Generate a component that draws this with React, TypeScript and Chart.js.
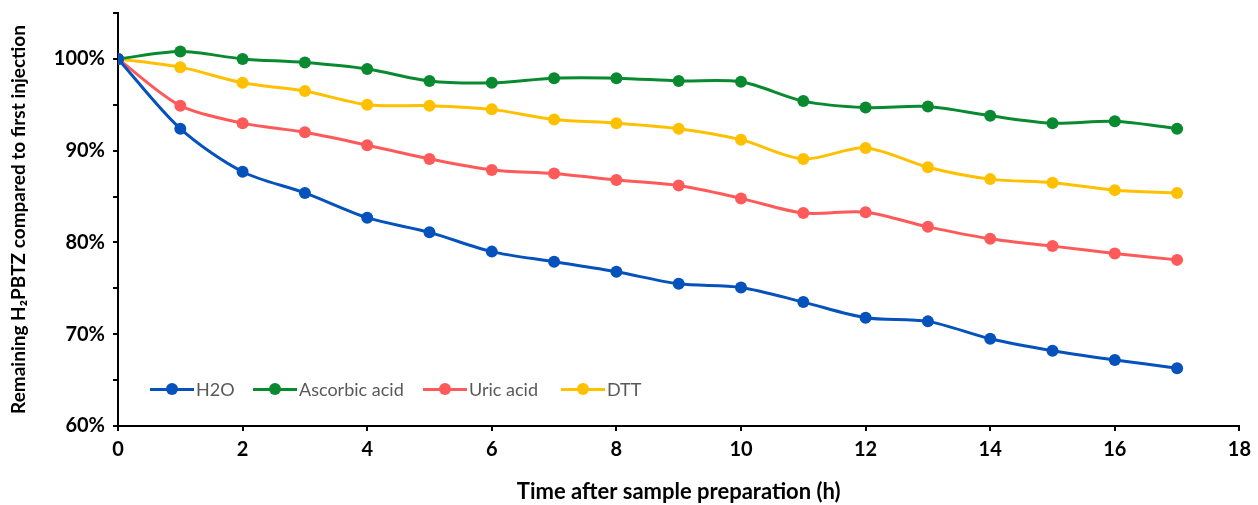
import React, { useEffect, useRef } from "react";
import { Chart, registerables } from "chart.js";

Chart.register(...registerables);

const hours = [0, 1, 2, 3, 4, 5, 6, 7, 8, 9, 10, 11, 12, 13, 14, 15, 16, 17];
const h2o = [100, 92.4, 87.7, 85.4, 82.7, 81.1, 79.0, 77.9, 76.8, 75.5, 75.1, 73.5, 71.8, 71.4, 69.5, 68.2, 67.2, 66.3];
const ascorbic = [100, 100.8, 100.0, 99.6, 98.9, 97.6, 97.4, 97.9, 97.9, 97.6, 97.5, 95.4, 94.7, 94.8, 93.8, 93.0, 93.2, 92.4];
const uric = [100, 94.9, 93.0, 92.0, 90.6, 89.1, 87.9, 87.5, 86.8, 86.2, 84.8, 83.2, 83.3, 81.7, 80.4, 79.6, 78.8, 78.1];
const dtt = [100, 99.1, 97.4, 96.5, 95.0, 94.9, 94.5, 93.4, 93.0, 92.4, 91.2, 89.1, 90.3, 88.2, 86.9, 86.5, 85.7, 85.4];

const seriesNames = ["H2O", "Ascorbic acid", "Uric acid", "DTT"];
const seriesColors = ["#0652BC", "#0A8A30", "#FF5A5A", "#FFC000"];
const seriesValues = [h2o, ascorbic, uric, dtt];

const xTitle = "Time after sample preparation (h)";
const yTitle = "Remaining H\u2082PBTZ compared to first injection";

const FONT = "Lato, 'Open Sans', 'DejaVu Sans', sans-serif";

export default function App() {
  const ref = useRef<HTMLCanvasElement | null>(null);

  useEffect(() => {
    if (!ref.current) return;
    const datasets = seriesNames.map((name, i) => ({
      label: name,
      data: hours.map((h, j) => ({ x: h, y: seriesValues[i][j] })),
      borderColor: seriesColors[i],
      backgroundColor: seriesColors[i],
      pointBackgroundColor: seriesColors[i],
      pointBorderColor: seriesColors[i],
      pointRadius: 6,
      pointBorderWidth: 0,
      borderWidth: 3,
      tension: 0.3,
    }));
    const chart = new Chart(ref.current, {
      type: "line",
      data: { datasets },
      options: {
        animation: false,
        responsive: false,
        maintainAspectRatio: false,
        layout: { padding: { left: 7, top: 13, right: 15, bottom: 0 } },
        plugins: { legend: { display: false }, tooltip: { enabled: false } },
        scales: {
          x: {
            type: "linear",
            min: 0,
            max: 18,
            ticks: {
              stepSize: 2,
              color: "#000",
              font: { family: FONT, size: 20, weight: "bold" },
              padding: 7,
              maxRotation: 0,
            },
            grid: { display: true, drawOnChartArea: false, drawTicks: true, tickLength: 5, color: "#000", lineWidth: 2 },
            border: { display: true, color: "#000", width: 2 },
            title: {
              display: true,
              text: xTitle,
              color: "#000",
              font: { family: FONT, size: 22, weight: "bold" },
              padding: 0,
            },
            afterFit: (s: any) => {
              s.height = 79;
            },
          },
          y: {
            min: 60,
            max: 105,
            ticks: {
              stepSize: 5,
              color: "#000",
              font: { family: FONT, size: 20, weight: "bold" },
              padding: 8,
              callback: (v: any) => (Number(v) % 10 === 0 ? `${v}%` : ""),
            },
            grid: { display: true, drawOnChartArea: false, drawTicks: true, tickLength: 5, color: "#000", lineWidth: 2 },
            border: { display: true, color: "#000", width: 2 },
            title: {
              display: true,
              text: yTitle,
              color: "#000",
              font: { family: FONT, size: 19, weight: "bold" },
              padding: 0,
            },
            afterFit: (s: any) => {
              s.width = 111;
              s.paddingTop = 0;
              s.paddingBottom = 0;
            },
          },
        },
      },
    });
    return () => chart.destroy();
  }, []);

  const legendX = [150, 253, 423, 561];

  return (
    <div style={{ position: "fixed", left: 0, top: 0, width: 1258, height: 505, background: "#fff" }}>
      <canvas ref={ref} width={1258} height={505} style={{ width: 1258, height: 505, display: "block" }} />
      {seriesNames.map((name, i) => (
        <div
          key={name}
          style={{
            position: "absolute",
            left: legendX[i],
            top: 378,
            height: 22,
            display: "flex",
            alignItems: "center",
            fontFamily: FONT,
            fontSize: 18,
            color: "#595959",
          }}
        >
          <div style={{ position: "relative", width: 44, height: 22, marginRight: 2 }}>
            <div style={{ position: "absolute", left: 0, right: 0, top: 9.5, height: 3, background: seriesColors[i] }} />
            <div
              style={{
                position: "absolute",
                left: 16,
                top: 5,
                width: 12,
                height: 12,
                borderRadius: 6,
                background: seriesColors[i],
              }}
            />
          </div>
          <span>{name}</span>
        </div>
      ))}
    </div>
  );
}
